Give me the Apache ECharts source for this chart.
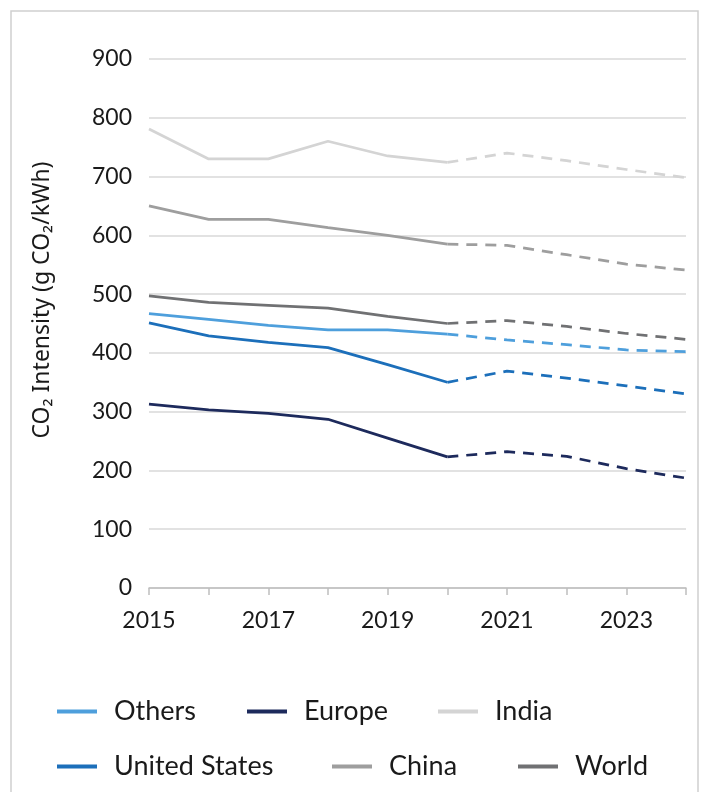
<!DOCTYPE html>
<html>
<head>
<meta charset="utf-8">
<script src="https://cdn.jsdelivr.net/npm/echarts@6/dist/echarts.min.js"></script>
<style>
html,body{margin:0;padding:0;background:#fff;}
#chart{width:704px;height:792px;}
</style>
</head>
<body>
<div id="chart"></div>
<script>
const years = ['2015','2016','2017','2018','2019','2020','2021','2022','2023','2024'];
const others = [467, 457, 447, 439, 439, 432, 422, 414, 405, 402];
const europe = [313, 303, 297, 287, 255, 223, 232, 224, 203, 187];
const india = [781, 730, 730, 760, 735, 724, 740, 727, 712, 698];
const unitedStates = [451, 429, 418, 409, 380, 350, 369, 357, 344, 330];
const china = [650, 627, 627, 613, 600, 585, 583, 567, 551, 541];
const world = [497, 486, 481, 476, 462, 450, 455, 445, 433, 423];
const splitIndex = 5; // 2020: last actual value, projections after
const yTicks = [0, 100, 200, 300, 400, 500, 600, 700, 800, 900];
const yTitle = 'CO₂ Intensity (g CO₂/kWh)';

const regions = [
  {name: 'Others', data: others, color: '#4E9FDC'},
  {name: 'Europe', data: europe, color: '#1D2A5C'},
  {name: 'India', data: india, color: '#D4D4D4'},
  {name: 'United States', data: unitedStates, color: '#1C6FBA'},
  {name: 'China', data: china, color: '#9E9E9E'},
  {name: 'World', data: world, color: '#707173'}
];

const FONT = 'Lato';
const series = [];
regions.forEach(r => {
  const solid = r.data.map((v, i) => i <= splitIndex ? v : null);
  const dashed = r.data.map((v, i) => i >= splitIndex ? v : null);
  series.push({
    name: r.name, type: 'line', data: solid, symbol: 'none', color: r.color,
    lineStyle: {width: 2.75, color: r.color}, connectNulls: false, silent: true
  });
  series.push({
    name: r.name, type: 'line', data: dashed, symbol: 'none', color: r.color,
    lineStyle: {width: 2.75, color: r.color, type: [11, 8]}, connectNulls: false, silent: true
  });
});

const legendPos = [
  {name: 'Others', left: 57, top: 698},
  {name: 'Europe', left: 247, top: 698},
  {name: 'India', left: 438, top: 698},
  {name: 'United States', left: 57, top: 753},
  {name: 'China', left: 332, top: 753},
  {name: 'World', left: 518, top: 753}
];
const legends = legendPos.map(l => ({
  data: [l.name], left: l.left, top: l.top, icon: 'rect',
  itemWidth: 40, itemHeight: 4, padding: 0,
  selectedMode: false,
  textStyle: {fontFamily: FONT, fontSize: 27, color: '#1a1a1a', padding: [0, 0, 0, 12]}
}));

const chart = echarts.init(document.getElementById('chart'), null, {renderer: 'canvas'});
chart.setOption({
  animation: false,
  backgroundColor: '#fff',
  grid: {left: 149, right: 18, top: 59, bottom: 204},
  legend: legends,
  xAxis: {
    type: 'category', data: years, boundaryGap: false,
    axisLine: {lineStyle: {color: '#BFBFBF', width: 1.5}},
    axisTick: {show: true, interval: 0, length: 7, lineStyle: {color: '#BFBFBF', width: 1.5}},
    axisLabel: {interval: 1, margin: 21, fontFamily: FONT, fontSize: 23, color: '#1a1a1a'},
    splitLine: {show: false}
  },
  yAxis: {
    type: 'value', min: yTicks[0], max: yTicks[yTicks.length - 1], interval: 100,
    axisLine: {show: false}, axisTick: {show: false},
    axisLabel: {margin: 17, fontFamily: FONT, fontSize: 23, color: '#1a1a1a'},
    splitLine: {lineStyle: {color: '#D9D9D9', width: 1.5}}
  },
  graphic: [
    {type: 'rect', shape: {x: 11, y: 11, width: 687, height: 800}, style: {fill: 'none', stroke: '#D0D0D0', lineWidth: 1.5}, silent: true},
    {type: 'text', x: 42, y: 300, rotation: Math.PI / 2,
     style: {text: yTitle, font: '23px "Noto Sans"', fill: '#1a1a1a', textAlign: 'center', textVerticalAlign: 'middle'}}
  ],
  series: series
});
</script>
</body>
</html>
